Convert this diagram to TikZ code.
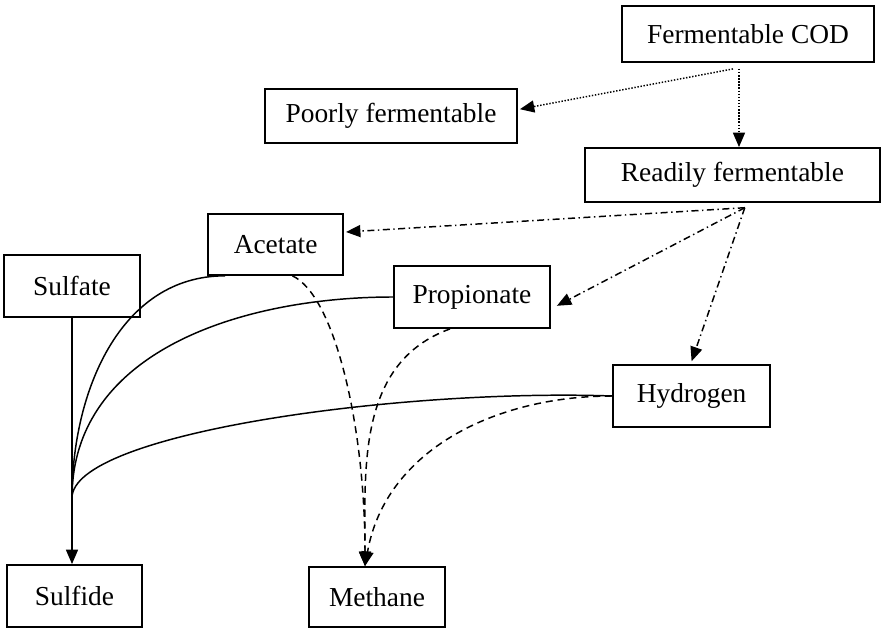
\documentclass[tikz,border=0pt]{standalone}
\usepackage{fontspec}
\setmainfont{Liberation Serif}
\usetikzlibrary{arrows.meta}

\begin{document}
\begin{tikzpicture}[
  box/.style={draw, line width=1.3pt, inner sep=0pt, font=\fontsize{19.5}{23}\selectfont},
  tip/.style={-{Triangle[length=3.6mm,width=3mm]}},
  link/.style={line width=1.05pt}
]
\useasboundingbox (0,0) rectangle (22.1,15.75);
\node[box, minimum width=6.3cm, minimum height=1.4cm] (cod) at (18.7,14.9) {Fermentable COD};
\node[box, minimum width=6.3cm, minimum height=1.35cm] (poor) at (9.775,12.85) {Poorly fermentable};
\node[box, minimum width=7.375cm, minimum height=1.35cm] (ready) at (18.31,11.375) {Readily fermentable};
\node[box, minimum width=3.375cm, minimum height=1.525cm] (acetate) at (6.89,9.64) {Acetate};
\node[box, minimum width=3.4cm, minimum height=1.55cm] (sulfate) at (1.8,8.6) {Sulfate};
\node[box, minimum width=3.9cm, minimum height=1.55cm] (propionate) at (11.8,8.325) {Propionate};
\node[box, minimum width=3.925cm, minimum height=1.55cm] (hydrogen) at (17.29,5.85) {Hydrogen};
\node[box, minimum width=3.375cm, minimum height=1.55cm] (sulfide) at (1.86,0.85) {Sulfide};
\node[box, minimum width=3.4cm, minimum height=1.5cm] (methane) at (9.425,0.825) {Methane};

\coordinate (cod1) at ([shift={(-0.375,-0.15)}]cod.south);
\coordinate (cod2) at ([shift={(-0.225,-0.15)}]cod.south);
\coordinate (rdy) at ([shift={(0.31,-0.12)}]ready.south);
\coordinate (merge) at (1.8,3.3);
\coordinate (ch4) at ([xshift=-0.3cm]methane.north);

\draw[link, tip, dash pattern=on 1pt off 1.2pt] (cod1) -- ([shift={(0.05,0.17)}]poor.east);
\draw[link, tip, dash pattern=on 1pt off 1.2pt] (cod2) -- (cod2 |- ready.north);

\draw[link, tip, dash pattern=on 5pt off 2.5pt on 1pt off 2.5pt] (rdy) -- ([shift={(0.05,0.31)}]acetate.east);
\draw[link, tip, dash pattern=on 5pt off 2.5pt on 1pt off 2.5pt] (rdy) -- ([shift={(0.15,-0.22)}]propionate.east);
\draw[link, tip, dash pattern=on 5pt off 2.5pt on 1pt off 2.5pt] (rdy) -- ([yshift=0.07cm]hydrogen.north);

\draw[link, tip] (sulfate.south) -- (sulfate.south |- sulfide.north);
\draw[link] ([xshift=0.45cm]acetate.south west) to[out=180,in=90] (merge);
\draw[link] (propionate.west) to[out=180,in=90] (merge);
\draw[link] (hydrogen.west) to[out=178,in=90,out looseness=1,in looseness=0.3] (merge);

\draw[link, tip, dash pattern=on 5pt off 3.5pt] ([xshift=0.42cm]acetate.south) to[out=-25,in=90,out looseness=0.4,in looseness=1.2] (ch4);
\draw[link, tip, dash pattern=on 5pt off 3.5pt] ([xshift=-0.55cm]propionate.south) to[out=200,in=90] (ch4);
\draw[link, tip, dash pattern=on 5pt off 3.5pt] (hydrogen.west) to[out=180,in=80] (ch4);
\end{tikzpicture}
\end{document}
